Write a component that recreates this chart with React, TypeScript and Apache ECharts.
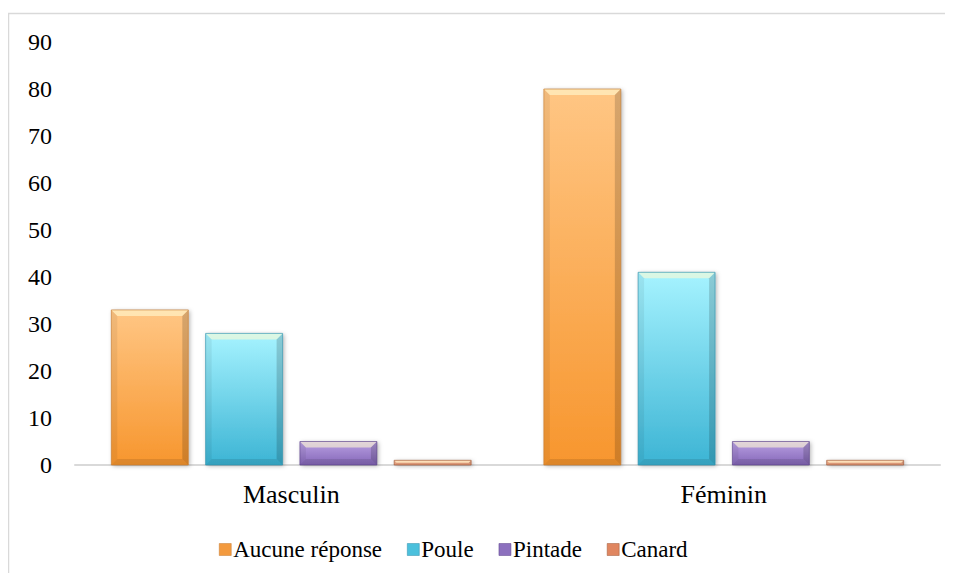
import React, { useEffect, useRef } from "react";
import * as echarts from "echarts";

const categories = ["Masculin", "Féminin"];
const seriesNames = ["Aucune réponse", "Poule", "Pintade", "Canard"];
const aucuneReponse = [33, 80];
const poule = [28, 41];
const pintade = [5, 5];
const canard = [1, 1];
const yTicks = [0, 10, 20, 30, 40, 50, 60, 70, 80, 90];

const seriesValues = [aucuneReponse, poule, pintade, canard];
const palette = [
  { top: "#FFC684", bottom: "#F7962E", border: "#C57A30", legend: "#F39A3E" },
  { top: "#A6F3FF", bottom: "#3CB4D4", border: "#2E8FAA", legend: "#4BC0DC" },
  { top: "#B9A0E2", bottom: "#8466B8", border: "#5A4088", legend: "#8C70BE" },
  { top: "#F9BC9A", bottom: "#F0A07C", border: "#9E5636", legend: "#E08660" },
];

const FONT = "Liberation Serif";

function makeRenderItem(si: number) {
  return (params: any, api: any) => {
    const cat = api.value(0);
    const val = api.value(1);
    const base = api.coord([cat, 0]);
    const topPt = api.coord([cat, val]);
    const band = api.size([1, 0])[0];
    const bw = band * 0.178;
    const gap = band * 0.04;
    const cx = base[0] + (si - 1.5) * (bw + gap);
    const x = cx - bw / 2;
    const y = topPt[1];
    const h = base[1] - topPt[1];
    const b = Math.max(0, Math.min(6, h / 2, bw / 2));
    const p = palette[si];
    return {
      type: "group",
      children: [
        {
          type: "rect",
          shape: { x, y, width: bw, height: h },
          style: {
            fill: new echarts.graphic.LinearGradient(0, 0, 0, 1, [
              { offset: 0, color: p.top },
              { offset: 1, color: p.bottom },
            ]),
            shadowColor: "rgba(0,0,0,0.3)",
            shadowBlur: 4,
            shadowOffsetX: 1.5,
            shadowOffsetY: 1,
          },
        },
        {
          type: "polygon",
          shape: { points: [[x, y], [x + bw, y], [x + bw - b, y + b], [x + b, y + b]] },
          style: { fill: "rgba(255,250,210,0.6)" },
        },
        {
          type: "polygon",
          shape: { points: [[x, y], [x + b, y + b], [x + b, y + h - b], [x, y + h]] },
          style: { fill: "rgba(0,0,0,0.06)" },
        },
        {
          type: "polygon",
          shape: { points: [[x + bw, y], [x + bw, y + h], [x + bw - b, y + h - b], [x + bw - b, y + b]] },
          style: { fill: "rgba(0,0,0,0.16)" },
        },
        {
          type: "polygon",
          shape: { points: [[x, y + h], [x + bw, y + h], [x + bw - b, y + h - b], [x + b, y + h - b]] },
          style: { fill: "rgba(0,0,0,0.10)" },
        },
        {
          type: "rect",
          shape: { x, y, width: bw, height: h },
          style: { fill: "none", stroke: p.border, lineWidth: 0.8, opacity: 0.8 },
        },
      ],
    };
  };
}

export default function App() {
  const ref = useRef<HTMLDivElement>(null);
  useEffect(() => {
    if (!ref.current) return;
    const chart = echarts.init(ref.current, null, { renderer: "svg" });
    chart.setOption({
      animation: false,
      backgroundColor: "#ffffff",
      textStyle: { fontFamily: FONT },
      graphic: [
        {
          type: "rect",
          shape: { x: 0.5, y: 5.5, width: 2000, height: 2000 },
          style: { fill: "none", stroke: "#D9D9D9", lineWidth: 1.5 },
          silent: true,
          z: -10,
        },
      ],
      grid: { left: 67, right: 13, top: 34, bottom: 108, containLabel: false },
      legend: {
        bottom: 7,
        left: 206,
        itemWidth: 12,
        itemHeight: 12,
        itemGap: 25,
        icon: "rect",
        textStyle: { fontFamily: FONT, fontSize: 23, color: "#000", padding: [0, 0, 0, -3] },
        data: seriesNames.map((n, i) => ({
          name: n,
          itemStyle: { color: palette[i].legend, borderColor: palette[i].border, borderWidth: 0.5 },
        })),
      },
      xAxis: {
        type: "category",
        data: categories,
        axisLine: { lineStyle: { color: "#D9D9D9", width: 2 } },
        axisTick: { show: false },
        axisLabel: { fontFamily: FONT, fontSize: 26, color: "#000", margin: 16 },
      },
      yAxis: {
        type: "value",
        min: 0,
        max: 90,
        interval: 10,
        axisLine: { show: false },
        axisTick: { show: false },
        splitLine: { show: false },
        axisLabel: {
          fontFamily: FONT,
          fontSize: 24,
          color: "#000",
          margin: 23,
          formatter: (v: number) => (yTicks.includes(v) ? String(v) : ""),
        },
      },
      series: seriesValues.map((vals, i) => ({
        name: seriesNames[i],
        type: "custom",
        renderItem: makeRenderItem(i),
        encode: { x: 0, y: 1 },
        itemStyle: { color: palette[i].legend },
        data: vals.map((v, j) => [j, v]),
        z: 2,
      })),
    });
    return () => chart.dispose();
  }, []);
  return <div ref={ref} style={{ width: 945, height: 565 }} />;
}
